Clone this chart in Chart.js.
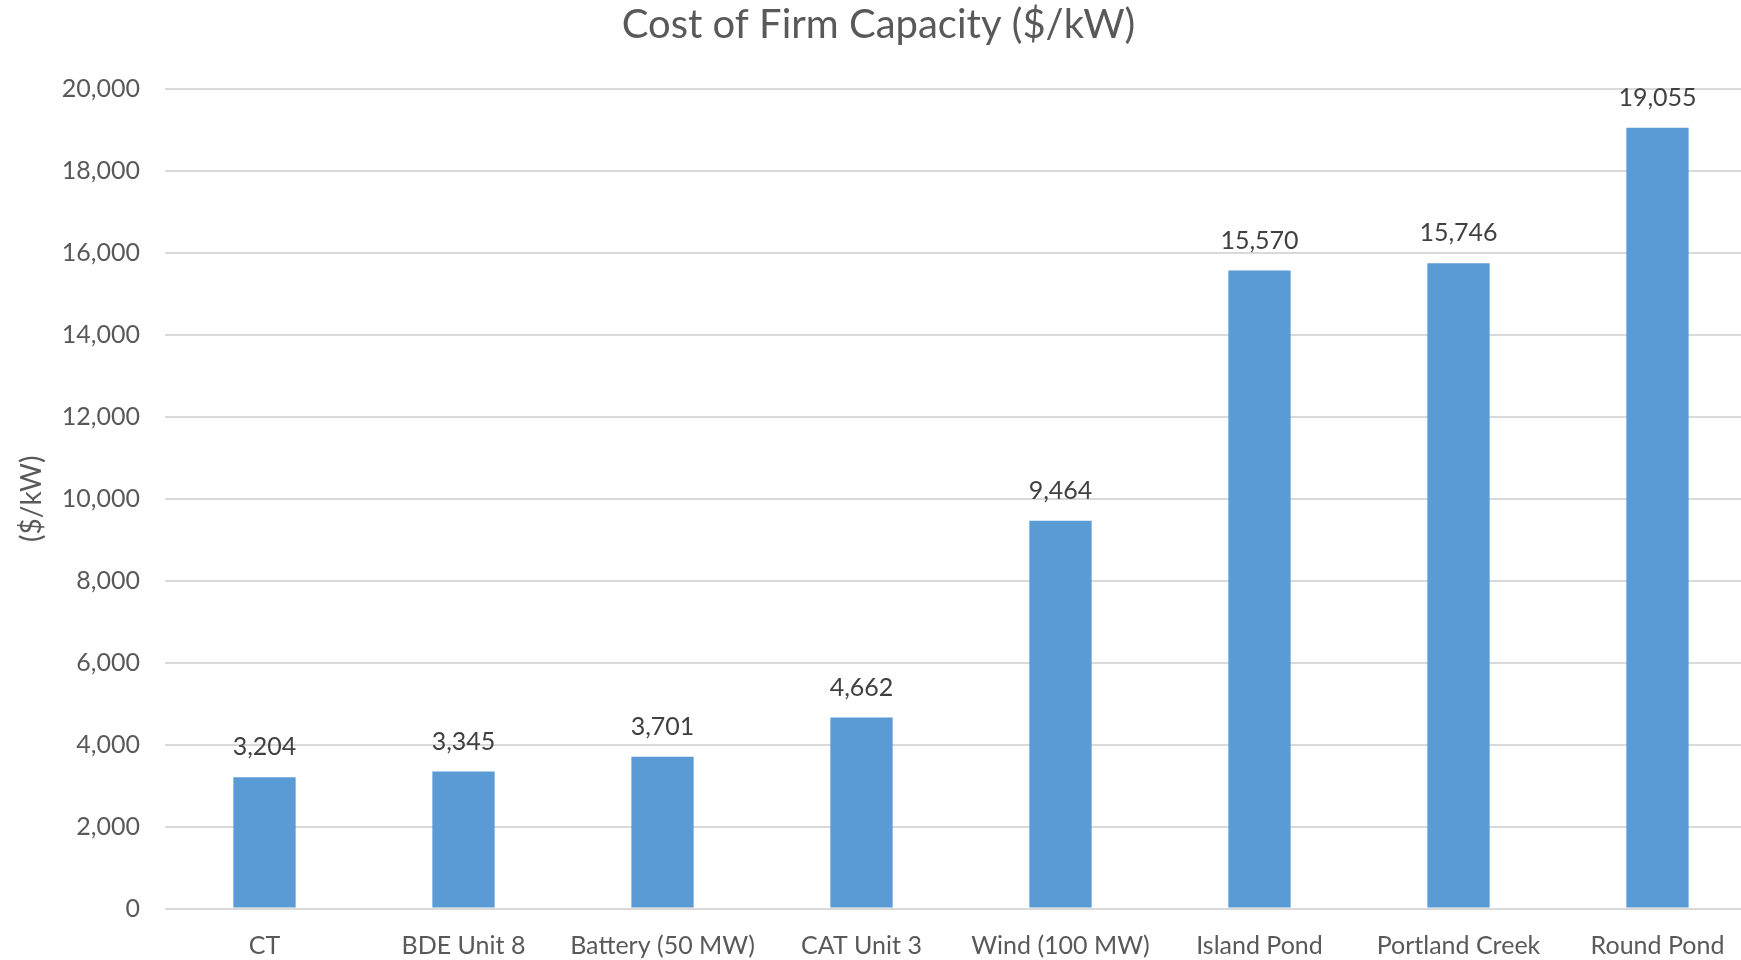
<!DOCTYPE html>
<html>
<head>
<meta charset="utf-8">
<title>Cost of Firm Capacity ($/kW)</title>
<script src="https://cdn.jsdelivr.net/npm/chart.js@4/dist/chart.umd.min.js"></script>
<style>
  html, body { margin: 0; padding: 0; background: #ffffff; overflow: hidden; }
  #wrap { width: 1741px; height: 960px; overflow: hidden; }
  canvas { display: block; }
</style>
</head>
<body>
<div id="wrap"><canvas id="chart" width="1760" height="960"></canvas></div>
<script>
// Generating options and their cost of firm capacity
const categories = ["CT", "BDE Unit 8", "Battery (50 MW)", "CAT Unit 3", "Wind (100 MW)", "Island Pond", "Portland Creek", "Round Pond"];
const costPerKW = [3204, 3345, 3701, 4662, 9464, 15570, 15746, 19055];
const yTicks = [0, 2000, 4000, 6000, 8000, 10000, 12000, 14000, 16000, 18000, 20000];

const FONT = "Lato, 'Open Sans', sans-serif";
const TEXT = "#595959";
const fmt = v => v.toLocaleString("en-US");

// Value labels above each bar
const valueLabels = {
  id: "valueLabels",
  afterDatasetsDraw(chart) {
    const ctx = chart.ctx;
    const meta = chart.getDatasetMeta(0);
    ctx.save();
    ctx.font = "25px " + FONT;
    ctx.fillStyle = "#404040";
    ctx.textAlign = "center";
    ctx.textBaseline = "middle";
    meta.data.forEach((bar, i) => {
      ctx.fillText(fmt(costPerKW[i]), bar.x, bar.y - 30);
    });
    ctx.restore();
  }
};

function draw() {
  Chart.defaults.font.family = FONT;
  Chart.defaults.color = TEXT;
  new Chart(document.getElementById("chart"), {
    type: "bar",
    data: {
      labels: categories,
      datasets: [{
        data: costPerKW,
        backgroundColor: "#5B9BD5",
        borderWidth: 0,
        categoryPercentage: 1,
        barPercentage: 0.313
      }]
    },
    options: {
      responsive: false,
      animation: false,
      layout: { padding: { left: 0, right: 3, top: 0, bottom: 0 } },
      plugins: {
        legend: { display: false },
        tooltip: { enabled: false },
        title: {
          display: true,
          text: "Cost of Firm Capacity ($/kW)",
          color: TEXT,
          font: { size: 40, weight: "normal", family: FONT },
          padding: { top: 1, bottom: 40 }
        }
      },
      scales: {
        x: {
          grid: { display: false, drawTicks: false },
          border: { display: false },
          ticks: { color: TEXT, font: { size: 25 }, padding: 22, maxRotation: 0, autoSkip: false },
          afterFit(scale) { scale.height = 51.5; }
        },
        y: {
          min: 0,
          max: 20000,
          afterBuildTicks(scale) { scale.ticks = yTicks.map(v => ({ value: v })); },
          grid: { color: "#D9D9D9", lineWidth: 2, drawTicks: false },
          border: { display: false },
          ticks: { color: TEXT, font: { size: 25 }, padding: 25, callback: v => fmt(v) },
          title: {
            display: true,
            text: "($/kW)",
            color: TEXT,
            font: { size: 28 },
            padding: { top: 15, bottom: 0 }
          },
          afterFit(scale) { scale.width = 165; }
        }
      }
    },
    plugins: [valueLabels]
  });
}

if (document.fonts && document.fonts.load) {
  Promise.all([document.fonts.load("25px Lato"), document.fonts.load("40px Lato")]).then(draw, draw);
} else {
  draw();
}
</script>
</body>
</html>
